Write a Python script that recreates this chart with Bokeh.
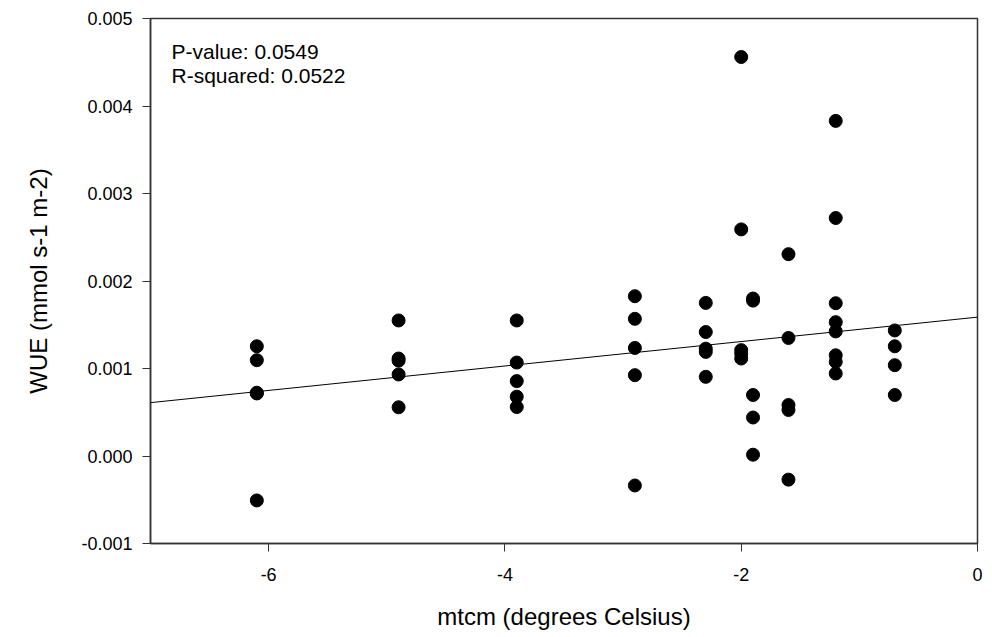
from bokeh.plotting import figure
from bokeh.models import Label, PrintfTickFormatter, FixedTicker, Range1d
from bokeh.embed import file_html
from bokeh.resources import INLINE

# mtcm (degrees Celsius) groups and WUE values (mmol s-1 m-2)
x_m61 = [-6.1] * 5
y_m61 = [0.001254, 0.001095, 0.000723, 0.000715, -0.000508]
x_m49 = [-4.9] * 5
y_m49 = [0.001549, 0.001114, 0.001090, 0.000932, 0.000557]
x_m39 = [-3.9] * 5
y_m39 = [0.001549, 0.001068, 0.000856, 0.000678, 0.000560]
x_m29 = [-2.9] * 5
y_m29 = [0.001826, 0.001568, 0.001235, 0.000924, -0.000337]
x_m23 = [-2.3] * 5
y_m23 = [0.001750, 0.001417, 0.001227, 0.001190, 0.000905]
x_m20 = [-2.0] * 5
y_m20 = [0.004560, 0.002590, 0.001210, 0.001170, 0.001114]
x_m19 = [-1.9] * 5
y_m19 = [0.001800, 0.001776, 0.000697, 0.000440, 0.000015]
x_m16 = [-1.6] * 5
y_m16 = [0.002307, 0.001349, 0.000583, 0.000526, -0.000270]
x_m12 = [-1.2] * 8
y_m12 = [0.003830, 0.002720, 0.001746, 0.001530, 0.001424, 0.001151, 0.001076, 0.000943]
x_m07 = [-0.7] * 4
y_m07 = [0.001435, 0.001254, 0.001038, 0.000697]

fit_intercept = 0.001587
fit_slope = 0.0001396
fit_x = [-7.0, 0.0]

p_value_text = "P-value: 0.0549"
r_squared_text = "R-squared: 0.0522"
x_title = "mtcm (degrees Celsius)"
y_title = "WUE (mmol s-1 m-2)"
x_ticks = [-6, -4, -2, 0]
y_ticks = [-0.001, 0.0, 0.001, 0.002, 0.003, 0.004, 0.005]

xs = x_m61 + x_m49 + x_m39 + x_m29 + x_m23 + x_m20 + x_m19 + x_m16 + x_m12 + x_m07
ys = y_m61 + y_m49 + y_m39 + y_m29 + y_m23 + y_m20 + y_m19 + y_m16 + y_m12 + y_m07

FONT = "Liberation Sans"

p = figure(width=984, height=632, output_backend="svg", toolbar_location=None,
           x_range=Range1d(-7, 0), y_range=Range1d(-0.001, 0.005),
           min_border_left=150, min_border_right=7, min_border_top=18, min_border_bottom=86)

p.xgrid.visible = False
p.ygrid.visible = False
p.outline_line_color = "#333333"
p.outline_line_width = 1.5

fit_y = [fit_intercept + fit_slope * v for v in fit_x]
p.line(fit_x, fit_y, line_color="black", line_width=1)
p.scatter(xs, ys, marker="circle", size=13, fill_color="black", line_color="black")

for ax in (p.xaxis[0], p.yaxis[0]):
    ax.axis_line_color = "#333333"
    ax.axis_line_width = 1.5
    ax.major_tick_line_color = "#333333"
    ax.major_tick_out = 8
    ax.major_tick_in = 0
    ax.minor_tick_line_color = None
    ax.major_label_text_font = FONT
    ax.major_label_text_font_size = "18px"
    ax.major_label_text_color = "black"
    ax.axis_label_text_font = FONT
    ax.axis_label_text_font_size = "24px"
    ax.axis_label_text_font_style = "normal"
    ax.axis_label_text_color = "black"

p.xaxis.ticker = FixedTicker(ticks=x_ticks)
p.yaxis.ticker = FixedTicker(ticks=y_ticks)
p.xaxis.formatter = PrintfTickFormatter(format="%d")
p.yaxis.formatter = PrintfTickFormatter(format="%.3f")
p.xaxis.major_label_standoff = 16
p.yaxis.major_label_standoff = 10
p.xaxis.axis_label = x_title
p.yaxis.axis_label = y_title
p.xaxis.axis_label_standoff = 19
p.yaxis.axis_label_standoff = 26

p.add_layout(Label(x=-6.822, y=0.004760, text=p_value_text, text_font=FONT,
                   text_font_size="21px", text_baseline="top", text_color="black"))
p.add_layout(Label(x=-6.822, y=0.004476, text=r_squared_text, text_font=FONT,
                   text_font_size="21px", text_baseline="top", text_color="black"))

open("out.html", "w").write(file_html(p, INLINE))
